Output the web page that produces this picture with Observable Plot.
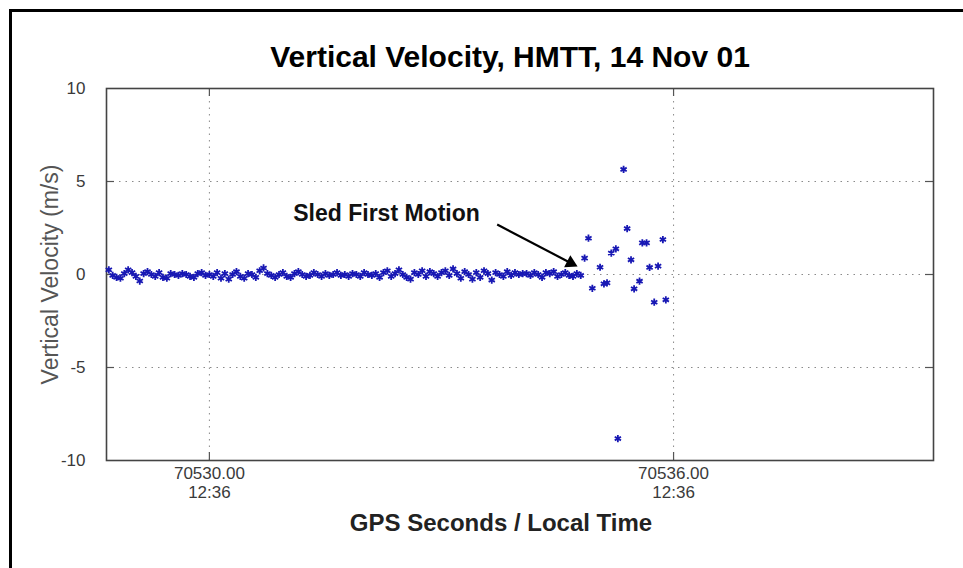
<!DOCTYPE html>
<html>
<head>
<meta charset="utf-8">
<script src="https://cdn.jsdelivr.net/npm/d3@7"></script>
<script src="https://cdn.jsdelivr.net/npm/@observablehq/plot@0.6"></script>
<style>
  html, body { margin: 0; padding: 0; background: #fff; overflow: hidden; width: 963px; height: 568px; }
  #wrap { position: relative; width: 963px; height: 568px; }
  #border { position: absolute; left: 9px; top: 9px; width: 1100px; height: 700px; border: 3px solid #000; box-sizing: border-box; }
  #chart { position: absolute; left: 0; top: 0; }
</style>
</head>
<body>
<div id="wrap"><div id="border"></div><div id="chart"></div></div>
<script>
// GPS seconds for the steady (pre-motion) samples
const baseTimes = [
  70528.70,70528.75,70528.80,70528.85,70528.90,70528.95,
  70529.00,70529.05,70529.10,70529.15,70529.20,70529.25,70529.30,70529.35,70529.40,70529.45,
  70529.50,70529.55,70529.60,70529.65,70529.70,70529.75,70529.80,70529.85,70529.90,70529.95,
  70530.00,70530.05,70530.10,70530.15,70530.20,70530.25,70530.30,70530.35,70530.40,70530.45,
  70530.50,70530.55,70530.60,70530.65,70530.70,70530.75,70530.80,70530.85,70530.90,70530.95,
  70531.00,70531.05,70531.10,70531.15,70531.20,70531.25,70531.30,70531.35,70531.40,70531.45,
  70531.50,70531.55,70531.60,70531.65,70531.70,70531.75,70531.80,70531.85,70531.90,70531.95,
  70532.00,70532.05,70532.10,70532.15,70532.20,70532.25,70532.30,70532.35,70532.40,70532.45,
  70532.50,70532.55,70532.60,70532.65,70532.70,70532.75,70532.80,70532.85,70532.90,70532.95,
  70533.00,70533.05,70533.10,70533.15,70533.20,70533.25,70533.30,70533.35,70533.40,70533.45,
  70533.50,70533.55,70533.60,70533.65,70533.70,70533.75,70533.80,70533.85,70533.90,70533.95,
  70534.00,70534.05,70534.10,70534.15,70534.20,70534.25,70534.30,70534.35,70534.40,70534.45,
  70534.50,70534.55,70534.60,70534.65,70534.70,70534.75,70534.80
];
// vertical velocity (m/s) for those samples
const baseVel = [
  0.25,-0.05,-0.15,-0.2,0.05,0.25,0.1,-0.1,-0.35,0.05,0.15,0.0,-0.1,0.1,-0.15,-0.2,0.05,0.0,-0.05,0.05,0.0,-0.1,-0.15,0.05,0.1,-0.05,0.0,-0.1,0.1,-0.2,
  0.05,-0.25,0.0,0.15,-0.1,-0.2,0.05,0.0,-0.15,0.2,0.35,0.05,-0.05,-0.15,0.0,0.1,-0.1,-0.15,0.05,0.15,0.0,-0.1,-0.05,0.1,0.0,-0.1,0.05,-0.05,0.0,0.1,
  -0.05,0.0,-0.1,0.05,0.0,-0.1,0.1,0.0,-0.05,0.05,-0.15,0.1,0.2,-0.1,0.05,0.25,0.0,-0.15,-0.25,0.1,0.0,0.2,-0.1,0.15,0.05,-0.1,0.1,0.2,-0.05,0.3,
  0.05,-0.2,0.15,0.0,-0.25,0.1,-0.15,0.2,0.05,-0.3,0.1,0.0,-0.1,0.15,-0.05,0.1,0.0,0.05,0.05,-0.05,0.1,0.0,-0.15,0.1,0.05,0.15,-0.1,0.0,0.1,-0.05,-0.1,0.05,-0.05
];
// samples after sled first motion
const motionTimes = [70534.85,70534.90,70534.95,70535.05,70535.10,70535.14,70535.195,70535.254,70535.28,70535.354,70535.40,70535.45,70535.49,70535.56,70535.596,70535.651,70535.69,70535.75,70535.80,70535.862,70535.90];
const motionVel   = [0.88,1.95,-0.74,0.39,-0.50,-0.45,1.15,1.38,-8.82,5.65,2.47,0.79,-0.77,-0.36,1.70,1.70,0.38,-1.49,0.45,1.88,-1.36];

const xDomain = [70528.67, 70539.36];
const yDomain = [-10, 10];
const xTicks = [70530, 70536];
const xTickLabels = ["70530.00", "70536.00"];
const xTickTimes = ["12:36", "12:36"];
const yTicks = [-10, -5, 0, 5, 10];
const yGrid = [-5, 0, 5];
const titleText = "Vertical Velocity, HMTT, 14 Nov 01";
const xLabel = "GPS Seconds / Local Time";
const yLabel = "Vertical Velocity (m/s)";
const noteText = "Sled First Motion";
const notePos = [{x: 70532.29, y: 3.28}];
const arrowLine = [{x1: 70533.72, y1: 2.69, x2: 70534.67, y2: 0.62}];
const arrowHead = [{x: 70534.67, y: 0.62}];

const points = baseTimes.map((t, i) => ({t, v: baseVel[i]}))
  .concat(motionTimes.map((t, i) => ({t, v: motionVel[i]})));
const labelByTick = new Map(xTicks.map((d, i) => [d, xTickLabels[i]]));
const timeByTick = new Map(xTicks.map((d, i) => [d, xTickTimes[i]]));

const tickColor = "#555";
const chart = Plot.plot({
  width: 963, height: 568,
  marginLeft: 106, marginRight: 30, marginTop: 88, marginBottom: 108,
  style: {fontFamily: "'Liberation Sans', Arial, sans-serif", background: "transparent", overflow: "visible"},
  x: {domain: xDomain},
  y: {domain: yDomain},
  marks: [
    Plot.ruleX(xTicks, {stroke: "#8a8a8a", strokeDasharray: "1.5,5"}),
    Plot.ruleY(yGrid, {stroke: "#8a8a8a", strokeDasharray: "1.5,5"}),
    // short inner tick marks along the frame
    Plot.tickX(xTicks, {frameAnchor: "top", stroke: tickColor, strokeWidth: 1.2, insetBottom: 364}),
    Plot.tickX(xTicks, {frameAnchor: "bottom", stroke: tickColor, strokeWidth: 1.2, insetTop: 364}),
    Plot.tickY(yGrid, {stroke: tickColor, strokeWidth: 1.2, insetRight: 819}),
    Plot.tickY(yGrid, {stroke: tickColor, strokeWidth: 1.2, insetLeft: 819}),
    Plot.frame({stroke: "#444", strokeWidth: 1.6}),
    Plot.axisX({ticks: xTicks, tickSize: 0, tickPadding: 6, fontSize: 17, color: "#3a3a3a", label: null,
      tickFormat: d => labelByTick.get(d)}),
    Plot.axisX({ticks: xTicks, tickSize: 0, tickPadding: 25, fontSize: 17, color: "#3a3a3a", label: null,
      tickFormat: d => timeByTick.get(d)}),
    Plot.axisY({ticks: yTicks, tickSize: 0, tickPadding: 21, fontSize: 17, color: "#3a3a3a", label: null,
      tickFormat: d => String(d)}),
    Plot.dot(points, {x: "t", y: "v", symbol: "asterisk", r: 3.4, stroke: "#1818b4", strokeWidth: 1.8}),
    Plot.link(arrowLine, {x1: "x1", y1: "y1", x2: "x2", y2: "y2", stroke: "#000", strokeWidth: 2.2}),
    Plot.dot(arrowHead, {x: "x", y: "y", symbol: "triangle", r: 5, fill: "#000", stroke: "none", rotate: 117.4}),
    Plot.text(notePos, {x: "x", y: "y", text: () => noteText, fontSize: 23, fontWeight: "bold", fill: "#111"}),
    Plot.text([titleText], {frameAnchor: "top", dx: -10, dy: -43, fontSize: 30, fontWeight: "bold", fill: "#000"}),
    Plot.text([xLabel], {frameAnchor: "bottom", dx: -19, dy: 70, fontSize: 24, fontWeight: "bold", fill: "#222"}),
    Plot.text([yLabel], {frameAnchor: "left", textAnchor: "middle", dx: -56, rotate: -90, fontSize: 23, fill: "#555"})
  ]
});
document.getElementById("chart").appendChild(chart);
</script>
</body>
</html>
